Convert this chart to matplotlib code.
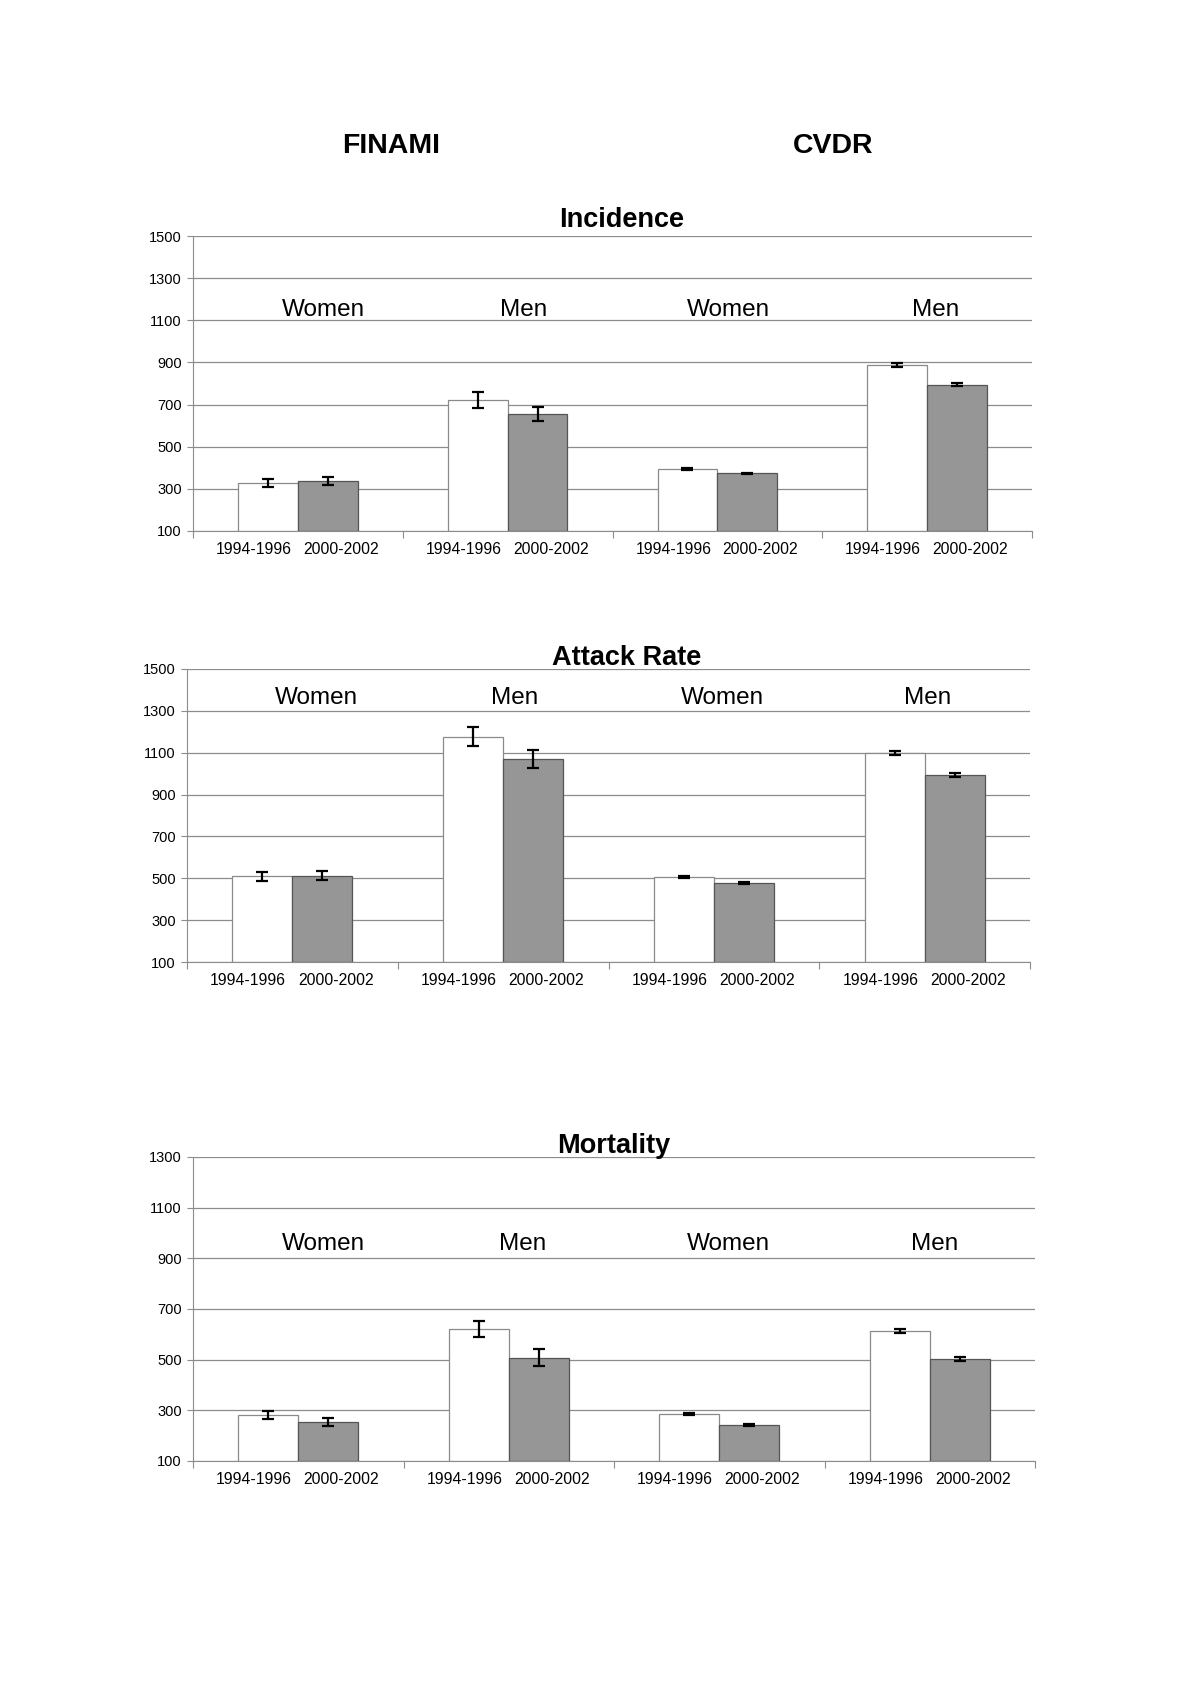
import numpy as np
import matplotlib.pyplot as plt

plt.rcParams['font.family'] = ['Liberation Sans', 'DejaVu Sans']

# --- DATA ---
groups = ['Women', 'Men', 'Women', 'Men']
periods = ['1994-1996', '2000-2002']

incidence_early = [328, 722, 395, 889]
incidence_late = [338, 655, 373, 794]
incidence_err_early = [20, 40, 5, 9]
incidence_err_late = [19, 32, 4, 7]

attack_early = [509, 1176, 504, 1099]
attack_late = [512, 1070, 477, 994]
attack_err_early = [21, 45, 5, 9]
attack_err_late = [22, 45, 4, 8]

mortality_early = [282, 622, 285, 614]
mortality_late = [255, 508, 244, 503]
mortality_err_early = [16, 32, 4, 7]
mortality_err_late = [16, 34, 4, 7]

# --- LAYOUT ---
W, H = 1200, 1698
fig = plt.figure(figsize=(12, 16.98), dpi=100)

fig.text(391 / W, 1 - 146 / H, 'FINAMI', fontsize=20.5, fontweight='bold', ha='center', va='center')
fig.text(833 / W, 1 - 146 / H, 'CVDR', fontsize=20.5, fontweight='bold', ha='center', va='center')

panels = [
    # title, box (left, top, right, bottom px), ylim, early, late, err_early, err_late,
    # label y, label x offsets, title pos (axes coords)
    ('Incidence', (193, 236, 1032, 531), (100, 1500),
     incidence_early, incidence_late, incidence_err_early, incidence_err_late,
     1150, [0.12, 0.075, 0.055, 0.04], (0.511, 1.055)),
    ('Attack Rate', (187, 669, 1030, 962), (100, 1500),
     attack_early, attack_late, attack_err_early, attack_err_late,
     1360, [0.115, 0.055, 0.04, 0.015], (0.521, 1.036)),
    ('Mortality', (193, 1157, 1035, 1461), (100, 1300),
     mortality_early, mortality_late, mortality_err_early, mortality_err_late,
     955, [0.12, 0.065, 0.045, 0.025], (0.50, 1.036)),
]

grid_col = '#8c8c8c'
bar_w = 0.285

for title, (l, t, r, b), ylim, early, late, e_early, e_late, label_y, offs, tpos in panels:
    ax = fig.add_axes([l / W, 1 - b / H, (r - l) / W, (b - t) / H])
    x = np.arange(len(groups))

    ax.bar(x - bar_w / 2, np.array(early) - ylim[0], bar_w, bottom=ylim[0],
           color='white', edgecolor='#8a8a8a', linewidth=0.9, zorder=2)
    ax.bar(x + bar_w / 2, np.array(late) - ylim[0], bar_w, bottom=ylim[0],
           color='#969696', edgecolor='#555555', linewidth=0.9, zorder=2)
    ax.errorbar(x - bar_w / 2, early, yerr=e_early, fmt='none', ecolor='black',
                elinewidth=1.6, capsize=4, capthick=1.6, zorder=3)
    ax.errorbar(x + bar_w / 2, late, yerr=e_late, fmt='none', ecolor='black',
                elinewidth=1.6, capsize=4, capthick=1.6, zorder=3)

    ax.set_xlim(-0.5, len(groups) - 0.5)
    ax.set_ylim(*ylim)
    ax.set_yticks(np.arange(ylim[0], ylim[1] + 1, 200))
    ax.yaxis.grid(True, color=grid_col, linewidth=0.9, zorder=0)
    ax.set_axisbelow(True)
    ax.tick_params(axis='y', labelsize=10.5, length=4, color=grid_col, pad=4)

    # category boundary ticks on x axis, period labels under each group
    ax.set_xticks(np.arange(-0.5, len(groups), 1.0))
    ax.set_xticklabels([])
    ax.tick_params(axis='x', length=5, color=grid_col)
    for i in x:
        ax.text(i - 0.21, -0.062, periods[0], transform=ax.get_xaxis_transform(),
                ha='center', va='center', fontsize=11.3)
        ax.text(i + 0.205, -0.062, periods[1], transform=ax.get_xaxis_transform(),
                ha='center', va='center', fontsize=11.3)

    for i, g in enumerate(groups):
        ax.text(i + offs[i], label_y, g, ha='center', va='center', fontsize=17.5)

    for s in ['top', 'right']:
        ax.spines[s].set_visible(False)
    ax.spines['left'].set_color(grid_col)
    ax.spines['bottom'].set_color(grid_col)

    ax.text(tpos[0], tpos[1], title, transform=ax.transAxes, ha='center', va='center',
            fontsize=19.5, fontweight='bold')

fig.savefig('out.png', dpi=100, facecolor='white')
